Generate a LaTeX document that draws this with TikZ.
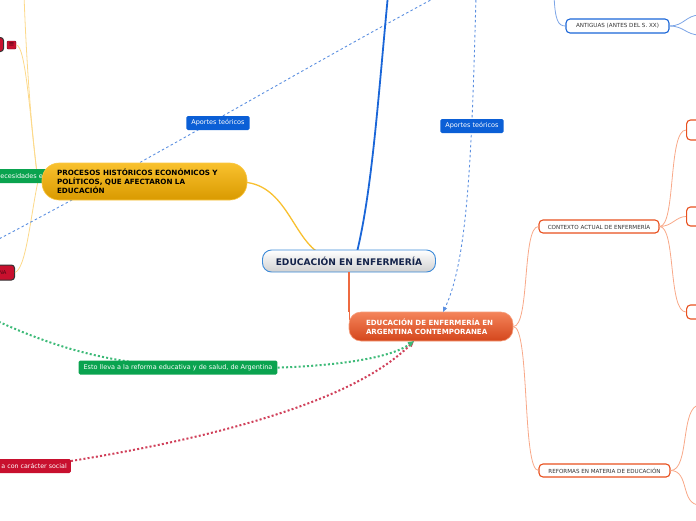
\documentclass[tikz,border=0pt]{standalone}
\usepackage{fontspec}
\setmainfont{DejaVu Sans}
\usetikzlibrary{arrows.meta}
\definecolor{cblue}{HTML}{3C8AD8}
\definecolor{navy}{HTML}{14234A}
\definecolor{lblue}{HTML}{0B5FD6}
\definecolor{thickblue}{HTML}{1A66D8}
\definecolor{dblue}{HTML}{5B8FE0}
\definecolor{ygold}{HTML}{F9C12E}
\definecolor{ydark}{HTML}{D99A00}
\definecolor{yline}{HTML}{F8C030}
\definecolor{ythin}{HTML}{FCD98A}
\definecolor{otop}{HTML}{F4845A}
\definecolor{obot}{HTML}{D4461C}
\definecolor{oedge}{HTML}{E8501E}
\definecolor{orangeline}{RGB}{238,106,64}
\definecolor{othin}{HTML}{F8A888}
\definecolor{gfill}{HTML}{0AA34F}
\definecolor{gdot}{HTML}{3DBA78}
\definecolor{cred}{HTML}{C8102E}
\definecolor{rdot}{HTML}{D0405A}
\definecolor{btxt}{HTML}{333333}
\definecolor{darkred}{HTML}{4A0612}
\tikzset{
  labelbox/.style={fill=#1, rounded corners=1.5pt, inner xsep=5pt, inner ysep=0pt,
    minimum height=14pt, text=white, font=\fontsize{6.5}{7}\selectfont},
  subbox/.style={draw=#1, line width=1.1pt, fill=white, rounded corners=4pt,
    minimum height=13pt, inner sep=0pt, text=btxt, font=\fontsize{5.6}{6}\selectfont},
  edgebox/.style={draw=oedge, line width=1.1pt, fill=white, rounded corners=4pt, inner sep=0pt},
  thinorange/.style={draw=othin, line width=0.8pt},
  thinblue/.style={draw=dblue!80, line width=0.8pt},
  thinyellow/.style={draw=ythin, line width=0.8pt},
  bluedash/.style={draw=dblue, line width=0.9pt, dash pattern=on 2.5pt off 2.5pt},
  greendot/.style={draw=gdot, line width=2pt, dash pattern=on 2pt off 2.2pt},
  reddot/.style={draw=rdot, line width=2pt, dash pattern=on 2pt off 2.2pt},
}
\begin{document}
\begin{tikzpicture}[x=1pt,y=-1pt]
\useasboundingbox (0,0) rectangle (696,520);
\clip (0,0) rectangle (696,520);

% free ends
\coordinate (topY) at (24,-5);
\coordinate (dashA0) at (-5,241);
\coordinate (dashA1) at (440,-5);
\coordinate (dashB0) at (476,-5);
\coordinate (gstart) at (-5,320);
\coordinate (blueTop) at (388,-5);
\coordinate (antTop) at (554,-5);
\coordinate (antR1) at (700,15);
\coordinate (antR2) at (700,35);
\coordinate (refR1) at (700,405);
\coordinate (refR2) at (700,505);
\coordinate (procJoin) at (38,181);

% left partial nodes
\node[fill=cred, draw=black!80, line width=1pt, rounded corners=3pt, minimum width=34pt, minimum height=14pt, inner sep=0pt, anchor=east] (lred1) at (4,44.5) {};
\node[fill=cred, draw=cred!60!black, line width=0.4pt, rounded corners=1pt, minimum width=9pt, minimum height=8pt, inner sep=0pt, text=darkred, font=\fontsize{7}{7}\selectfont] (icon) at (11.5,45) {≡};
\node[fill=cred, draw=black!80, line width=1pt, rounded corners=3pt, minimum height=15pt, text width=30pt, inner xsep=8pt, inner ysep=0pt, anchor=east, align=right, text=darkred, font=\fontsize{5.2}{6}\selectfont] (lred2) at (15,272.5) {NA};

% thin yellow lines from PROCESOS
\draw[thinyellow] (procJoin) .. controls (30,120) and (26,50) .. (topY);
\draw[thinyellow] (icon.east) .. controls (26,45) and (30,120) .. (procJoin);
\draw[thinyellow] (lred2.east) .. controls (26,268) and (30,220) .. (procJoin);

% dashed blue line 1
\draw[bluedash] (dashA0) .. controls (150,160) and (300,70) .. (dashA1);

% green partial label
\node[labelbox=gfill, anchor=west, minimum width=60pt, align=left] (glabel) at (-9,176) {necesidades en};

% main connectors (drawn beneath nodes)
\draw[draw=orangeline, line width=1.5pt] (349.5,265) -- (349.5,320);
\draw[draw=thickblue, line width=1.8pt] (357,252) .. controls (372,190) and (378,100) .. (blueTop);
\draw[draw=yline, line width=1.3pt] (240,182) .. controls (285,182) and (292,236) .. (319,253);

% main nodes
\node[draw=cblue, line width=0.9pt, rounded corners=9pt, top color=white, bottom color=black!18,
  minimum width=173pt, minimum height=22pt, inner sep=0pt, text=navy,
  font=\bfseries\fontsize{9.1}{10}\selectfont] (central) at (349,261) {EDUCACIÓN EN ENFERMERÍA};

\node[draw=ygold!90!white, line width=0.6pt, rounded corners=17pt, top color=ygold, bottom color=ydark,
  minimum width=205pt, minimum height=37pt, inner xsep=0pt, inner ysep=0pt, text width=175pt, align=left,
  text=black, font=\bfseries\fontsize{7.2}{9}\selectfont] (procesos) at (144.5,181.5)
  {PROCESOS HISTÓRICOS ECONÓMICOS Y\\POLÍTICOS, QUE AFECTARON LA\\EDUCACIÓN};

\node[draw=otop!80!white, line width=0.6pt, rounded corners=12pt, top color=otop, bottom color=obot,
  minimum width=164pt, minimum height=29pt, inner xsep=0pt, inner ysep=0pt, text width=130pt, align=left,
  text=white, font=\bfseries\fontsize{7.1}{9}\selectfont] (eduarg) at (431,326.5)
  {EDUCACIÓN DE ENFERMERÍA EN\\ARGENTINA CONTEMPORANEA};

% link central -> eduarg (visible part)
\draw[draw=orangeline, line width=1.5pt] (central.south -| eduarg.west) ++(0.5,0) -- ++(0,40);

% sub nodes
\node[subbox=oedge, minimum width=120pt] (contexto) at (599,226.5) {CONTEXTO ACTUAL DE ENFERMERÍA};
\node[subbox=oedge, minimum width=131pt] (reformas) at (604.5,470.5) {REFORMAS EN MATERIA DE EDUCACIÓN};
\node[subbox=thickblue, minimum width=103pt, minimum height=14pt] (antiguas) at (617.5,26) {ANTIGUAS (ANTES DEL S. XX)};

% right partial nodes
\node[edgebox, minimum width=30pt, minimum height=20pt, anchor=west] (c1) at (686,130) {};
\node[edgebox, minimum width=30pt, minimum height=19pt, anchor=west] (c2) at (686,216.5) {};
\node[edgebox, minimum width=30pt, minimum height=14pt, anchor=west] (c3) at (686,312) {};

% thin branches
\draw[thinorange] (eduarg.east) .. controls (530,326.5) and (522,226.5) .. (contexto.west);
\draw[thinorange] (eduarg.east) .. controls (530,326.5) and (522,470.5) .. (reformas.west);
\draw[thinorange] (contexto.east) .. controls (676,226.5) and (668,130) .. (c1.west);
\draw[thinorange] (contexto.east) .. controls (672,226.5) and (676,216.5) .. (c2.west);
\draw[thinorange] (contexto.east) .. controls (676,226.5) and (668,312) .. (c3.west);
\draw[thinorange] (reformas.east) .. controls (690,470.5) and (680,405) .. (refR1);
\draw[thinorange] (reformas.east) .. controls (690,470.5) and (680,505) .. (refR2);
\draw[thinblue] (antTop) .. controls (555,20) and (558,26) .. (antiguas.west);
\draw[thinblue] (antiguas.east) .. controls (684,26) and (686,15) .. (antR1);
\draw[thinblue] (antiguas.east) .. controls (684,26) and (686,35) .. (antR2);

% dashed blue arrow 2
\draw[bluedash, -{Triangle[length=5pt,width=4pt,fill=dblue]}] (dashB0) .. controls (472,150) and (468,260) .. (443,312);

% dotted arrows
\draw[reddot, -{Triangle[length=6pt,width=5pt]}] (71,461) .. controls (200,440) and (350,405) .. (414,341);
\draw[greendot, -{Triangle[length=6pt,width=5pt]}] (gstart) .. controls (60,350) and (110,362) .. (178,367)
   .. controls (300,372) and (385,362) .. (414,341);

% labels
\node[labelbox=lblue] (ap1) at (218,123) {Aportes teóricos};
\node[labelbox=lblue] (ap2) at (472,126) {Aportes teóricos};
\node[labelbox=gfill] (glab2) at (178,367.5) {Esto lleva a la reforma educativa y de salud, de Argentina};
\node[labelbox=cred, anchor=east, inner xsep=4pt, font=\fontsize{6.3}{7}\selectfont] (rlab) at (71,466) {a con carácter social};
\end{tikzpicture}
\end{document}
